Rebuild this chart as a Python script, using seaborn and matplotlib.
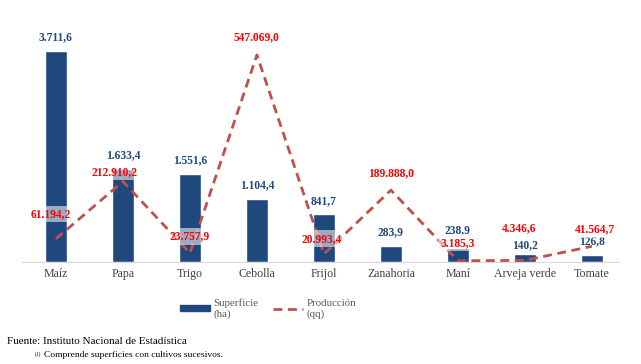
import numpy as np
import pandas as pd
import matplotlib
matplotlib.use("Agg")
import matplotlib.pyplot as plt
import seaborn as sns
from matplotlib.patches import Patch
from matplotlib.lines import Line2D

# data
cultivos = ["Maíz", "Papa", "Trigo", "Cebolla", "Frijol", "Zanahoria", "Maní", "Arveja verde", "Tomate"]
superficie = [3711.6, 1633.4, 1551.6, 1104.4, 841.7, 283.9, 238.9, 140.2, 126.8]
produccion = [61194.2, 212910.2, 23757.9, 547069.0, 20993.4, 189888.0, 3185.3, 4346.6, 41564.7]

# label offsets (points) above bar tops / line points
off_sup = [10, 10, 10, 10, 9.5, 10, 13.5, 6.5, 10]
off_prod = [18, 7, 12, 13, 11, 12, 13, 23, 12]
dx_prod = [-4, -6, 0, 0, -2, 0, 0, -4, 2]

def fmt(v):
    s = f"{v:,.1f}"
    return s.replace(",", "X").replace(".", ",").replace("X", ".")

sns.set_style("white")
plt.rcParams['font.family'] = ['Liberation Serif', 'DejaVu Serif']

BLUE = "#1F497D"
LINE = "#C0504D"

fig = plt.figure(figsize=(6.41, 3.64), dpi=100)
ax = fig.add_axes([0.035, 0.2802, 0.9407, 0.665])
df = pd.DataFrame({"cultivo": cultivos, "sup": superficie, "prod": produccion})
sns.barplot(data=df, x="cultivo", y="sup", color=BLUE, width=0.33, saturation=1, ax=ax)
ax.set_ylim(0, 4257)
ax.set_xlim(-0.5, 8.5)

ax2 = ax.twinx()
sns.lineplot(x=np.arange(len(cultivos)), y=produccion, ax=ax2, color=LINE,
             linestyle=(0, (3.2, 2)), linewidth=2)
ax2.set_ylim(0, 639568)
ax2.set_xlim(-0.5, 8.5)

for a in (ax, ax2):
    for s in a.spines.values():
        s.set_visible(False)
    a.set_yticks([])
    a.set_ylabel("")
    a.set_xlabel("")
ax.spines["bottom"].set_visible(True)
ax.spines["bottom"].set_color("#D9D9D9")
ax.spines["bottom"].set_bounds(-0.5, 8.4)
ax.tick_params(axis="x", length=0, pad=4, labelsize=8.6, labelcolor="#404040")

for i, v in enumerate(superficie):
    ax.annotate(fmt(v), (i, v), xytext=(0, off_sup[i]), textcoords="offset points",
                ha="center", va="center", fontsize=8.3, fontweight="bold", color=BLUE)

for i, v in enumerate(produccion):
    ax2.annotate(fmt(v), (i, v), xytext=(dx_prod[i], off_prod[i]), textcoords="offset points",
                 ha="center", va="center", fontsize=8.3, fontweight="bold", color="red",
                 bbox=dict(boxstyle="square,pad=0.2", fc="white", ec="none", alpha=0.55))

handles = [Patch(color=BLUE), Line2D([0], [0], color=LINE, linestyle=(0, (3.2, 2)), linewidth=2)]
fig.legend(handles, ["Superficie\n(ha)", "Producción\n(qq)"], loc="center",
           bbox_to_anchor=(0.418, 0.152), ncol=2, frameon=False, fontsize=7.8,
           handlelength=2.8, handleheight=0.5, columnspacing=1.3, handletextpad=0.3,
           labelcolor="#595959")

fig.text(0.011, 0.062, "Fuente: Instituto Nacional de Estadística", fontsize=8, color="black", va="center")
fig.text(0.054, 0.028, "(1)", fontsize=4, color="black", va="center")
fig.text(0.069, 0.024, "Comprende superficies con cultivos sucesivos.", fontsize=6.8, color="black", va="center")

fig.savefig("out.png", dpi=100)
